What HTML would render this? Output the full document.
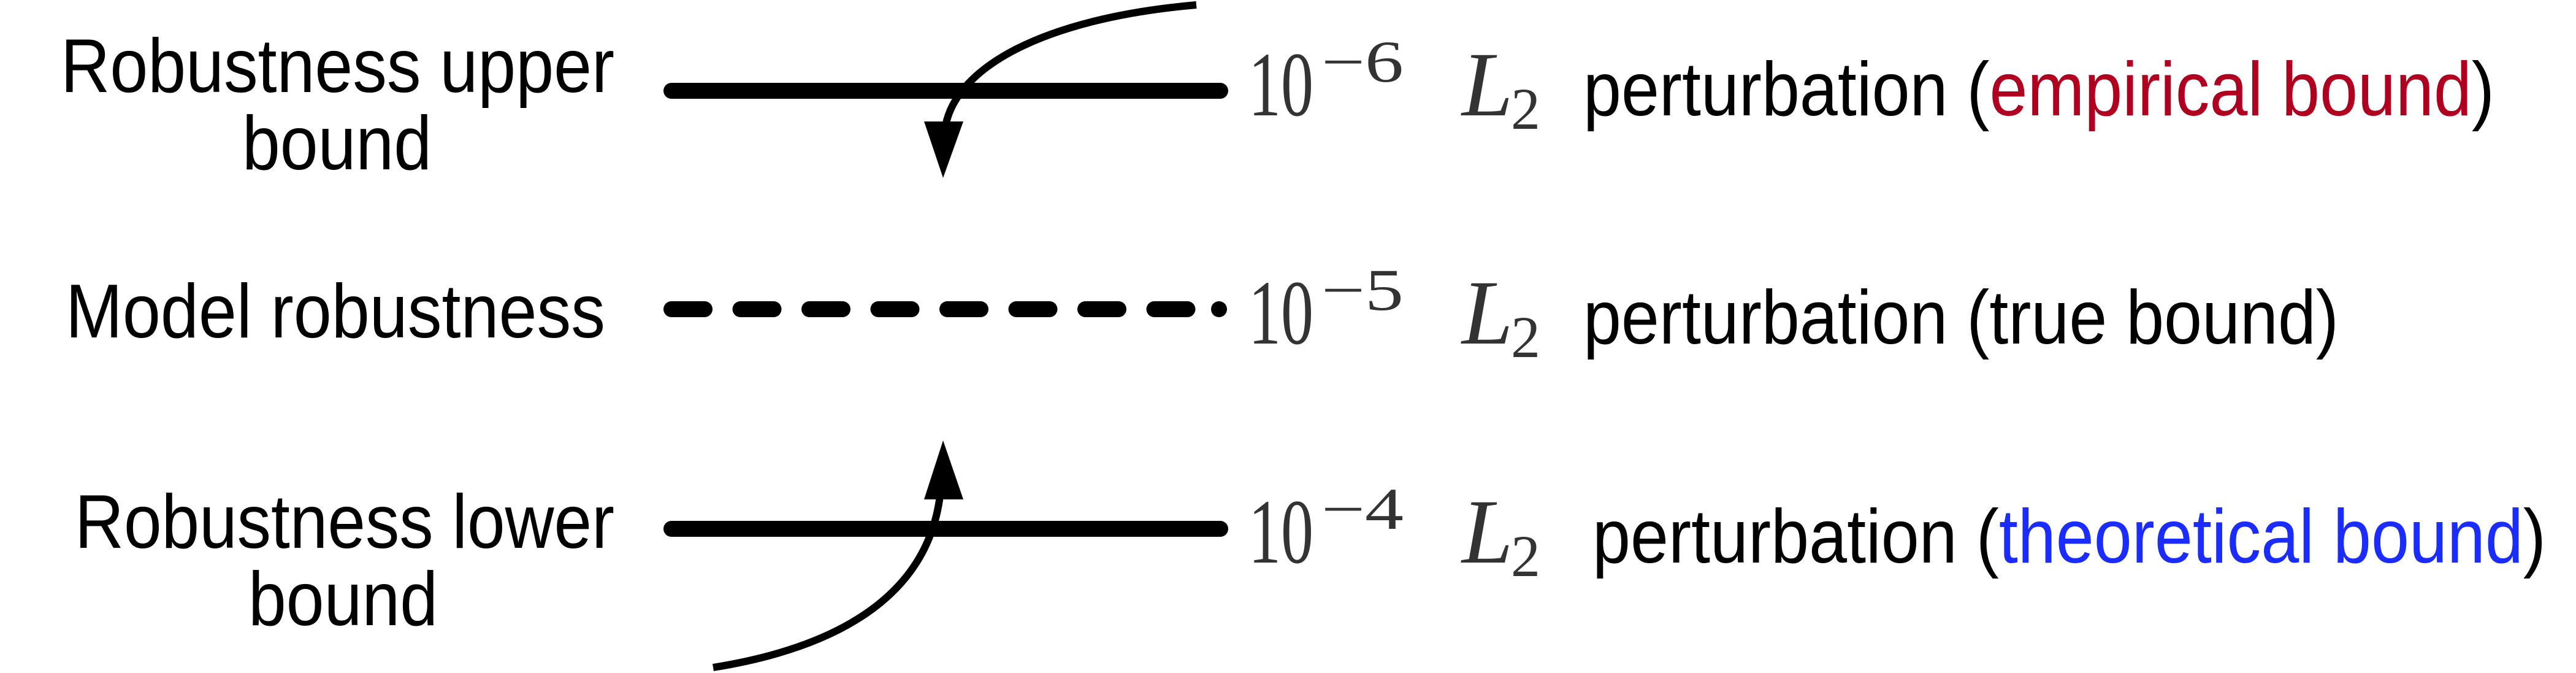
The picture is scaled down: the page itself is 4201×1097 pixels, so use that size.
<!DOCTYPE html>
<html><head><meta charset="utf-8"><style>
html,body{margin:0;padding:0;background:#fff}
svg{display:block}
.s{font-family:"Liberation Sans",sans-serif;font-size:124px;fill:#000}
.m{font-family:"Liberation Serif",serif;fill:#333}
</style></head><body>
<svg width="4201" height="1097" viewBox="0 0 4201 1097">
<!-- left labels -->
<text class="s" x="99" y="150" textLength="903" lengthAdjust="spacingAndGlyphs">Robustness upper</text>
<text class="s" x="395" y="276" textLength="309" lengthAdjust="spacingAndGlyphs">bound</text>
<text class="s" x="107" y="550" textLength="880" lengthAdjust="spacingAndGlyphs">Model robustness</text>
<text class="s" x="122" y="893" textLength="880" lengthAdjust="spacingAndGlyphs">Robustness lower</text>
<text class="s" x="405" y="1019" textLength="309" lengthAdjust="spacingAndGlyphs">bound</text>

<!-- lines -->
<line x1="1095" y1="148" x2="1990" y2="148" stroke="#000" stroke-width="26" stroke-linecap="round"/>
<line x1="1095" y1="504" x2="1990" y2="504" stroke="#000" stroke-width="26" stroke-linecap="round" stroke-dasharray="54 58.5"/>
<circle cx="1988" cy="504" r="13" fill="#000"/>
<line x1="1095" y1="862" x2="1990" y2="862" stroke="#000" stroke-width="26" stroke-linecap="round"/>

<!-- arrows -->
<path d="M1951,8 C1700,30 1560,110 1542,205" fill="none" stroke="#000" stroke-width="12"/>
<polygon points="1507,198 1571,198 1538,290" fill="#000"/>
<path d="M1163,1088 C1400,1050 1515,950 1533,808" fill="none" stroke="#000" stroke-width="12"/>
<polygon points="1507,814 1571,814 1538,718" fill="#000"/>

<!-- row 1 -->
<g>
<text class="m" x="2036" y="188" font-size="150" textLength="106" lengthAdjust="spacingAndGlyphs">10</text>
<text class="m" x="2155" y="133" font-size="96" textLength="134" lengthAdjust="spacingAndGlyphs">−6</text>
<text class="m" x="2384" y="188" font-size="150" font-style="italic">L</text>
<text class="m" x="2464" y="210" font-size="96">2</text>
<text class="s" x="2582" y="188" textLength="1486" lengthAdjust="spacingAndGlyphs">perturbation (<tspan fill="#b00020">empirical bound</tspan>)</text>
</g>
<!-- row 2 -->
<g>
<text class="m" x="2036" y="560" font-size="150" textLength="106" lengthAdjust="spacingAndGlyphs">10</text>
<text class="m" x="2155" y="505" font-size="96" textLength="134" lengthAdjust="spacingAndGlyphs">−5</text>
<text class="m" x="2384" y="560" font-size="150" font-style="italic">L</text>
<text class="m" x="2464" y="582" font-size="96">2</text>
<text class="s" x="2582" y="560" textLength="1232" lengthAdjust="spacingAndGlyphs">perturbation (true bound)</text>
</g>
<!-- row 3 -->
<g>
<text class="m" x="2036" y="917" font-size="150" textLength="106" lengthAdjust="spacingAndGlyphs">10</text>
<text class="m" x="2155" y="862" font-size="96" textLength="134" lengthAdjust="spacingAndGlyphs">−4</text>
<text class="m" x="2384" y="917" font-size="150" font-style="italic">L</text>
<text class="m" x="2464" y="939" font-size="96">2</text>
<text class="s" x="2597" y="917" textLength="1555" lengthAdjust="spacingAndGlyphs">perturbation (<tspan fill="#1a2cff">theoretical bound</tspan>)</text>
</g>
</svg>
</body></html>
